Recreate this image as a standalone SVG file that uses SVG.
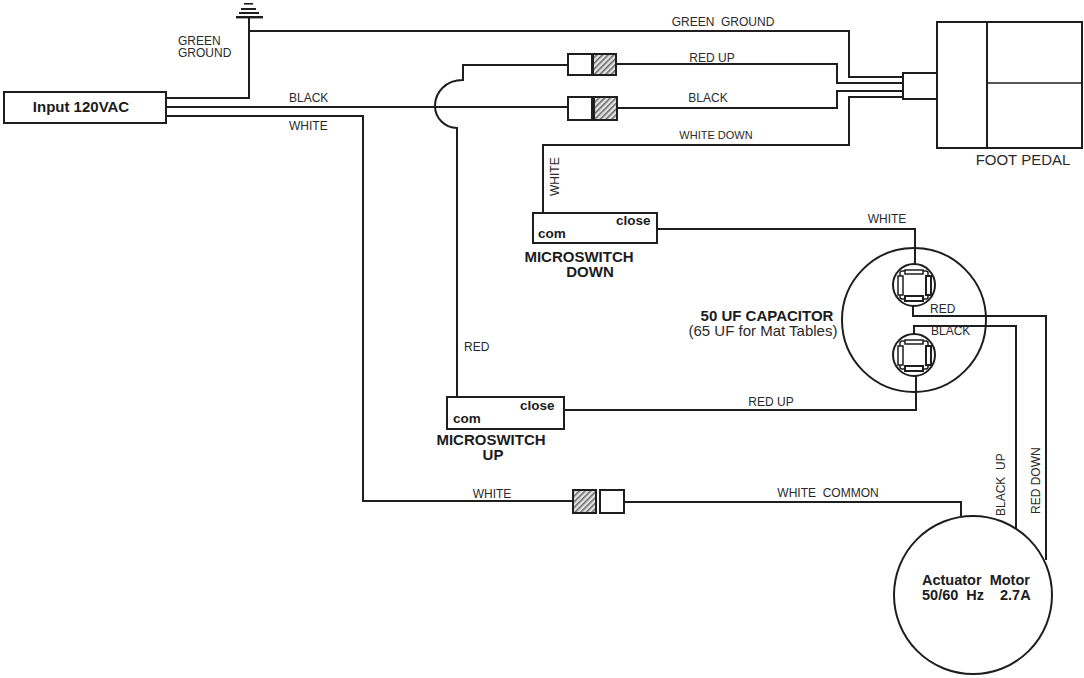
<svg xmlns="http://www.w3.org/2000/svg" width="1084" height="678" viewBox="0 0 1084 678">
<style>
text{font-family:"Liberation Sans",Arial,sans-serif;fill:#2a2a2a}
.l{font-size:12px;white-space:pre}
.b{font-size:15px;font-weight:bold;fill:#1c1c1c}
.s{font-size:13.5px;font-weight:bold;fill:#1c1c1c}
.r{font-size:15px}
.w{fill:none;stroke:#1e1e1e;stroke-width:2}
.box{fill:#fff;stroke:#1e1e1e;stroke-width:2}
.hb{fill:url(#hatch);stroke:#1e1e1e;stroke-width:2}
.t{fill:#fff;stroke:#1e1e1e;stroke-width:1.5}
.m{text-anchor:middle}
.mt{font-size:14.5px;word-spacing:4px}
</style>
<defs>
<pattern id="hatch" width="4" height="4" patternUnits="userSpaceOnUse" patternTransform="rotate(45)">
<rect width="4" height="4" fill="#e4e4e4"/><rect width="1.6" height="4" fill="#6a6a6a"/>
</pattern>
<g id="terminal">
<circle r="21" class="box"/>
<rect x="-14" y="-14" width="28" height="28" rx="2" class="t"/>
<rect x="-9" y="-15" width="18" height="4" class="t"/>
<rect x="-9" y="11" width="18" height="5" fill="#fff" stroke="#1e1e1e" stroke-width="2"/>
<rect x="-16" y="-9" width="5" height="19" class="t"/>
<rect x="12" y="-9" width="5" height="19" fill="#fff" stroke="#1e1e1e" stroke-width="2"/>
</g>
</defs>
<rect width="1084" height="678" fill="#fff"/>
<g id="connectors">
<path class="w" d="M166 98H249V18M249 31H849V77H903"/>
<path class="w" d="M568 65H463V80C446 80 435 92 435 106C435 118 445 128 457 128V397"/>
<path class="w" d="M597 64H837V83H903"/>
<path class="w" d="M166 107H568"/>
<path class="w" d="M617 108H837V91H903"/>
<path class="w" d="M166 116H363V501H573"/>
<path class="w" d="M903 97H849V145H543V213"/>
<path class="w" d="M623 502H961V516"/>
<path class="w" d="M657 229H915V264"/>
<path class="w" d="M564 410H916V376"/>
<path class="w" d="M913 306V316H1046V560"/>
<path class="w" d="M914 334V326H1016V528"/>
</g>
<g id="ground">
<rect x="244" y="3" width="9" height="1.6" fill="#1e1e1e"/>
<rect x="241" y="8" width="15" height="2" fill="#1e1e1e"/>
<rect x="239" y="12" width="20" height="2" fill="#1e1e1e"/>
<rect x="236" y="16" width="27" height="2.4" fill="#1e1e1e"/>
</g>
<g id="input"><rect x="4" y="92" width="162" height="31" class="box"/><text x="81" y="112" class="b m">Input 120VAC</text></g>
<g id="connector-red-up"><rect x="568" y="54" width="24" height="21" class="box"/><rect x="592" y="54" width="24" height="21" class="hb"/><rect x="591" y="54" width="3" height="21" fill="#1e1e1e"/></g>
<g id="connector-black"><rect x="568" y="97" width="25" height="23" class="box"/><rect x="593" y="97" width="24" height="23" class="hb"/><rect x="591" y="97" width="4" height="23" fill="#1e1e1e"/></g>
<g id="connector-white"><rect x="573" y="490" width="23" height="23" class="hb"/><rect x="600" y="490" width="24" height="23" class="box"/></g>
<g id="foot-pedal">
<rect x="903" y="73" width="34" height="26" class="box"/>
<rect x="937" y="22" width="145" height="126" class="box"/>
<path class="w" d="M987 22V148"/><path d="M987 83H1082" fill="none" stroke="#1e1e1e" stroke-width="1.5"/>
<text x="1023" y="165" class="r m">FOOT PEDAL</text>
</g>
<g id="microswitch-down">
<rect x="533" y="213" width="124" height="30" class="box"/>
<text x="616" y="225" class="s">close</text><text x="538" y="238" class="s">com</text>
<text x="579" y="262" class="b m">MICROSWITCH</text><text x="590" y="277" class="b m">DOWN</text>
</g>
<g id="microswitch-up">
<rect x="447" y="397" width="117" height="32" class="box"/>
<text x="520" y="410" class="s">close</text><text x="453" y="423" class="s">com</text>
<text x="491" y="445" class="b m">MICROSWITCH</text><text x="493" y="460" class="b m">UP</text>
</g>
<g id="capacitor">
<circle cx="914" cy="320" r="72" fill="none" stroke="#1e1e1e" stroke-width="2"/>
<use href="#terminal" x="914" y="285"/>
<use href="#terminal" x="914" y="355"/>
<text x="767" y="321" class="b m">50 UF CAPACITOR</text>
<text x="763" y="336" class="r m">(65 UF for Mat Tables)</text>
</g>
<g id="motor">
<circle cx="973" cy="595" r="79" class="box"/>
<text x="922" y="585" class="b mt">Actuator Motor</text>
<text x="922" y="600" class="b mt">50/60 Hz</text><text x="1000" y="600" class="b mt">2.7A</text>
</g>
<g id="labels">
<text x="178" y="45" class="l">GREEN</text><text x="178" y="57" class="l">GROUND</text>
<text x="723" y="26" class="l m">GREEN  GROUND</text>
<text x="289" y="102" class="l">BLACK</text>
<text x="289" y="130" class="l">WHITE</text>
<text x="712" y="62" class="l m">RED UP</text>
<text x="708" y="102" class="l m">BLACK</text>
<text x="716" y="139" class="l m" style="font-size:11px">WHITE DOWN</text>
<text transform="translate(559 196) rotate(-90)" class="l">WHITE</text>
<text x="887" y="223" class="l m">WHITE</text>
<text x="930" y="313" class="l">RED</text>
<text x="931" y="335" class="l">BLACK</text>
<text x="464" y="351" class="l">RED</text>
<text x="771" y="406" class="l m">RED UP</text>
<text x="492" y="498" class="l m">WHITE</text>
<text x="828" y="497" class="l m">WHITE  COMMON</text>
<text transform="translate(1005 516) rotate(-90)" class="l">BLACK  UP</text>
<text transform="translate(1040 514) rotate(-90)" class="l">RED DOWN</text>
</g>
</svg>
